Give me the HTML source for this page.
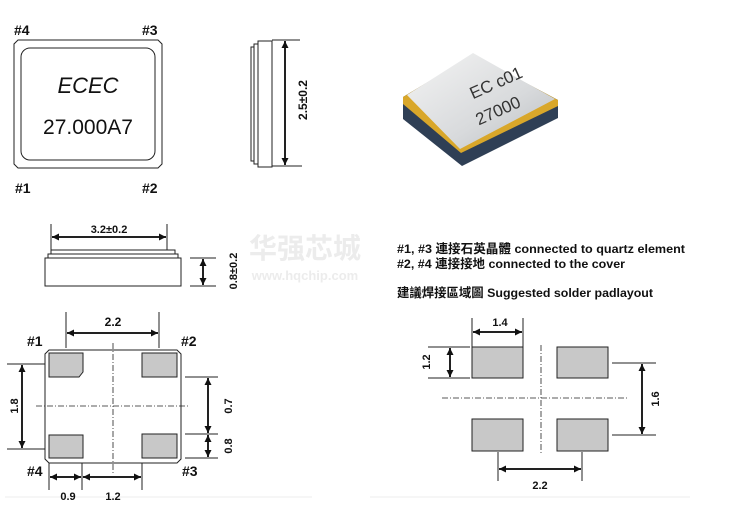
<!DOCTYPE html>
<html><head><meta charset="utf-8"><style>
html,body{margin:0;padding:0;background:#fff;}
svg{display:block;}
text{font-family:"Liberation Sans","Noto Sans CJK SC",sans-serif;fill:#111;}
.b{font-weight:bold;}
</style></head><body>
<svg width="737" height="514" viewBox="0 0 737 514" xmlns="http://www.w3.org/2000/svg">
<defs>
<marker id="a" viewBox="0 0 10 10" refX="10" refY="5" markerWidth="7" markerHeight="7" orient="auto-start-reverse" markerUnits="userSpaceOnUse"><path d="M0,0 L10,5 L0,10 z" fill="#111"/></marker>
<linearGradient id="sv" x1="0" y1="0" x2="1" y2="1"><stop offset="0" stop-color="#f4f4f4"/><stop offset="0.6" stop-color="#d8dadc"/><stop offset="1" stop-color="#b8bcc0"/></linearGradient>
</defs>
<g stroke="#222" fill="none" stroke-width="1">
<path d="M18,40 L158,40 L162,44 L162,164 L158,168 L18,168 L14,164 L14,44 Z"/>
<rect x="21" y="48" width="134" height="112" rx="9"/>
<rect x="258" y="41" width="14" height="126"/>
<rect x="254" y="44" width="4" height="120"/>
<rect x="251" y="47" width="3" height="114"/>
<line x1="272" y1="40" x2="300" y2="40"/>
<line x1="272" y1="166" x2="302" y2="166"/>
<line x1="285" y1="41" x2="285" y2="165" stroke-width="2" marker-start="url(#a)" marker-end="url(#a)"/>
<rect x="45" y="258" width="136" height="28"/>
<rect x="48" y="254" width="130" height="4"/>
<rect x="51" y="250" width="124" height="4"/>
<line x1="51" y1="224" x2="51" y2="250"/>
<line x1="167" y1="224" x2="167" y2="250"/>
<line x1="52" y1="237" x2="166" y2="237" stroke-width="2" marker-start="url(#a)" marker-end="url(#a)"/>
<line x1="190" y1="258" x2="216" y2="258"/>
<line x1="190" y1="286" x2="216" y2="286"/>
<line x1="203" y1="259" x2="203" y2="285" stroke-width="2" marker-start="url(#a)" marker-end="url(#a)"/>
<path d="M49,350 L177,350 L181,354 L181,459 L177,463 L49,463 L45,459 L45,354 Z"/>
<path d="M49,353 L83,353 L83,372 L79,377 L49,377 Z" fill="#c8c8c8"/>
<rect x="142" y="353" width="35" height="24" fill="#c8c8c8"/>
<rect x="49" y="435" width="34" height="23" fill="#c8c8c8"/>
<rect x="142" y="434" width="35" height="24" fill="#c8c8c8"/>
<line x1="113" y1="343" x2="113" y2="473" stroke-dasharray="6,2,1,2" stroke-width="0.8"/>
<line x1="36" y1="406" x2="188" y2="406" stroke-dasharray="6,2,1,2" stroke-width="0.8"/>
<line x1="66" y1="312" x2="66" y2="348"/>
<line x1="159" y1="312" x2="159" y2="348"/>
<line x1="67" y1="333" x2="158" y2="333" stroke-width="2" marker-start="url(#a)" marker-end="url(#a)"/>
<line x1="7" y1="364" x2="45" y2="364"/>
<line x1="7" y1="449" x2="45" y2="449"/>
<line x1="22" y1="365" x2="22" y2="448" stroke-width="2" marker-start="url(#a)" marker-end="url(#a)"/>
<line x1="185" y1="377" x2="218" y2="377"/>
<line x1="185" y1="434" x2="218" y2="434"/>
<line x1="185" y1="458" x2="218" y2="458"/>
<line x1="208" y1="378" x2="208" y2="433" stroke-width="2" marker-start="url(#a)" marker-end="url(#a)"/>
<line x1="208" y1="435" x2="208" y2="457" stroke-width="2" marker-start="url(#a)" marker-end="url(#a)"/>
<line x1="49" y1="463" x2="49" y2="490"/>
<line x1="82" y1="463" x2="82" y2="490"/>
<line x1="142" y1="463" x2="142" y2="490"/>
<line x1="50" y1="477" x2="81" y2="477" stroke-width="2" marker-start="url(#a)" marker-end="url(#a)"/>
<line x1="83" y1="477" x2="141" y2="477" stroke-width="2" marker-start="url(#a)" marker-end="url(#a)"/>
<rect x="472" y="347" width="51" height="31" fill="#c8c8c8"/>
<rect x="557" y="347" width="51" height="31" fill="#c8c8c8"/>
<rect x="472" y="419" width="51" height="32" fill="#c8c8c8"/>
<rect x="557" y="419" width="51" height="32" fill="#c8c8c8"/>
<line x1="541" y1="345" x2="541" y2="454" stroke-dasharray="6,2,1,2" stroke-width="0.8"/>
<line x1="442" y1="398" x2="628" y2="398" stroke-dasharray="6,2,1,2" stroke-width="0.8"/>
<line x1="472" y1="318" x2="472" y2="347"/>
<line x1="523" y1="318" x2="523" y2="347"/>
<line x1="473" y1="332" x2="522" y2="332" stroke-width="2" marker-start="url(#a)" marker-end="url(#a)"/>
<line x1="428" y1="347" x2="470" y2="347"/>
<line x1="428" y1="378" x2="470" y2="378"/>
<line x1="450" y1="348" x2="450" y2="377" stroke-width="2" marker-start="url(#a)" marker-end="url(#a)"/>
<line x1="612" y1="363" x2="656" y2="363"/>
<line x1="612" y1="435" x2="656" y2="435"/>
<line x1="642" y1="364" x2="642" y2="434" stroke-width="2" marker-start="url(#a)" marker-end="url(#a)"/>
<line x1="498" y1="452" x2="498" y2="481"/>
<line x1="582" y1="452" x2="582" y2="481"/>
<line x1="499" y1="469" x2="581" y2="469" stroke-width="2" marker-start="url(#a)" marker-end="url(#a)"/>
</g>
<line x1="5" y1="497" x2="312" y2="497" stroke="#eee"/>
<line x1="370" y1="497" x2="690" y2="497" stroke="#eee"/>
<path d="M403,97 L473,55 L558,100 L558,118 L462,166 L403,119 Z" fill="#2f3f55"/>
<path d="M403,97 L473,55 L558,100 L558,106 L461,153 L403,104 Z" fill="#d9a72a"/>
<path d="M407,95 L473,53 L555,99 L460,149 Z" fill="url(#sv)"/>
<text x="470" y="100" font-size="17" transform="rotate(-24 470 93)" style="fill:#333">EC c01</text>
<text x="475" y="122" font-size="17" transform="rotate(-24 485 115)" style="fill:#333">27000</text>
<text class="b" x="14" y="35" font-size="14">#4</text>
<text class="b" x="142" y="35" font-size="14">#3</text>
<text class="b" x="15" y="193" font-size="14">#1</text>
<text class="b" x="142" y="193" font-size="14">#2</text>
<text x="88" y="93" font-size="22" font-style="italic" text-anchor="middle">ECEC</text>
<text x="88" y="134" font-size="21" text-anchor="middle">27.000A7</text>
<text class="b" x="0" y="0" font-size="12" transform="translate(307,100) rotate(-90)" text-anchor="middle">2.5±0.2</text>
<text class="b" x="109" y="233" font-size="11" text-anchor="middle">3.2±0.2</text>
<text class="b" x="0" y="0" font-size="11" transform="translate(237,271) rotate(-90)" text-anchor="middle">0.8±0.2</text>
<text class="b" x="305" y="258" font-size="28" text-anchor="middle" style="fill:#ececec">华强芯城</text>
<text class="b" x="305" y="280" font-size="13" text-anchor="middle" style="fill:#ececec">www.hqchip.com</text>
<text class="b" x="113" y="326" font-size="12" text-anchor="middle">2.2</text>
<text class="b" x="27" y="346" font-size="14">#1</text>
<text class="b" x="181" y="346" font-size="14">#2</text>
<text class="b" x="27" y="476" font-size="14">#4</text>
<text class="b" x="182" y="476" font-size="14">#3</text>
<text class="b" x="0" y="0" font-size="11" transform="translate(18,406) rotate(-90)" text-anchor="middle">1.8</text>
<text class="b" x="0" y="0" font-size="11" transform="translate(232,406) rotate(-90)" text-anchor="middle">0.7</text>
<text class="b" x="0" y="0" font-size="11" transform="translate(232,446) rotate(-90)" text-anchor="middle">0.8</text>
<text class="b" x="68" y="500" font-size="11" text-anchor="middle">0.9</text>
<text class="b" x="113" y="500" font-size="11" text-anchor="middle">1.2</text>
<text class="b" x="397" y="253" font-size="12.3" textLength="288" lengthAdjust="spacingAndGlyphs">#1, #3 連接石英晶體 connected to quartz element</text>
<text class="b" x="397" y="268" font-size="12.3" textLength="228" lengthAdjust="spacingAndGlyphs">#2, #4 連接接地 connected to the cover</text>
<text class="b" x="397" y="297" font-size="12.3" textLength="256" lengthAdjust="spacingAndGlyphs">建議焊接區域圖 Suggested solder padlayout</text>
<text class="b" x="500" y="326" font-size="11" text-anchor="middle">1.4</text>
<text class="b" x="0" y="0" font-size="11" transform="translate(430,362) rotate(-90)" text-anchor="middle">1.2</text>
<text class="b" x="0" y="0" font-size="11" transform="translate(659,399) rotate(-90)" text-anchor="middle">1.6</text>
<text class="b" x="540" y="489" font-size="11" text-anchor="middle">2.2</text>
</svg>
</body></html>
